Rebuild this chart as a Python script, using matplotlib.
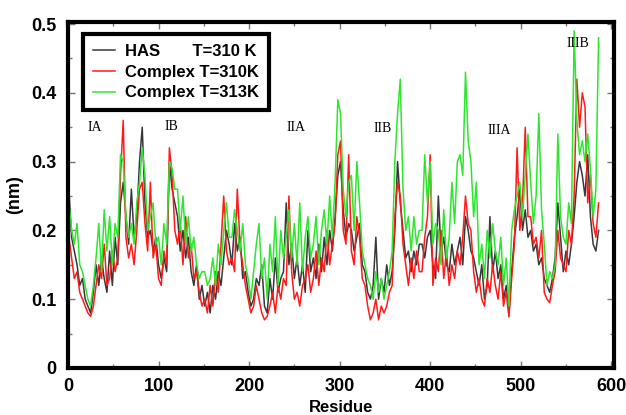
import numpy as np
import matplotlib.pyplot as plt
from matplotlib.ticker import MultipleLocator

# residue numbers, every 3rd residue
residue = np.arange(1, 587, 3)

# RMSF (nm)
has_310 = [
    0.26, 0.19, 0.17, 0.15, 0.12, 0.13, 0.10, 0.09, 0.08, 0.11,
    0.15, 0.12, 0.16, 0.13, 0.11, 0.17, 0.12, 0.19, 0.15, 0.24,
    0.27, 0.22, 0.18, 0.26, 0.19, 0.22, 0.30, 0.35, 0.24, 0.19,
    0.20, 0.17, 0.19, 0.15, 0.13, 0.16, 0.14, 0.30, 0.26, 0.24,
    0.22, 0.17, 0.20, 0.16, 0.19, 0.14, 0.12, 0.15, 0.10, 0.12,
    0.09, 0.11, 0.08, 0.12, 0.10, 0.14, 0.12, 0.16, 0.20, 0.18,
    0.15, 0.21, 0.17, 0.19, 0.13, 0.14, 0.11, 0.09, 0.10, 0.13,
    0.12, 0.15, 0.09, 0.08, 0.13, 0.10, 0.16, 0.11, 0.13, 0.14,
    0.24, 0.15, 0.18, 0.13, 0.16, 0.12, 0.15, 0.11, 0.20, 0.14,
    0.16, 0.13, 0.18, 0.14, 0.19, 0.15, 0.20, 0.17, 0.22, 0.28,
    0.30, 0.23, 0.19, 0.21, 0.20, 0.17, 0.19, 0.21, 0.15, 0.14,
    0.11, 0.10, 0.12, 0.19, 0.10, 0.13, 0.11, 0.15, 0.12, 0.14,
    0.20, 0.30, 0.24, 0.20, 0.16, 0.17, 0.14, 0.17, 0.15, 0.18,
    0.18, 0.16, 0.19, 0.20, 0.15, 0.13, 0.25, 0.17, 0.19, 0.15,
    0.14, 0.18, 0.15, 0.17, 0.19, 0.15, 0.22, 0.20, 0.17, 0.16,
    0.14, 0.12, 0.15, 0.10, 0.12, 0.22, 0.14, 0.17, 0.13, 0.15,
    0.10, 0.12, 0.08, 0.14, 0.19, 0.22, 0.26, 0.20, 0.23, 0.19,
    0.20, 0.17, 0.18, 0.15, 0.16, 0.13, 0.12, 0.11, 0.13, 0.16,
    0.24, 0.19, 0.14, 0.17, 0.15, 0.18, 0.22, 0.27, 0.30, 0.28,
    0.25, 0.31, 0.22, 0.18, 0.17, 0.20,
]
complex_310 = [
    0.19, 0.16, 0.13, 0.14, 0.11, 0.10, 0.09, 0.08, 0.075, 0.09,
    0.12, 0.15, 0.13, 0.18, 0.12, 0.13, 0.17, 0.14, 0.16, 0.28,
    0.36, 0.19, 0.16, 0.18, 0.15, 0.20, 0.26, 0.27, 0.21, 0.17,
    0.27, 0.16, 0.18, 0.13, 0.12, 0.17, 0.15, 0.32, 0.28, 0.20,
    0.18, 0.21, 0.15, 0.22, 0.16, 0.18, 0.13, 0.14, 0.11, 0.09,
    0.10, 0.08, 0.12, 0.09, 0.14, 0.11, 0.18, 0.25, 0.17, 0.15,
    0.16, 0.14, 0.26, 0.18, 0.15, 0.12, 0.10, 0.08, 0.09, 0.12,
    0.10, 0.08, 0.07, 0.075, 0.09, 0.11, 0.08, 0.12, 0.10, 0.13,
    0.12, 0.25, 0.14, 0.10, 0.11, 0.09, 0.12, 0.13, 0.15, 0.11,
    0.13, 0.17, 0.12, 0.16, 0.14, 0.20, 0.15, 0.18, 0.21, 0.31,
    0.33, 0.20, 0.18, 0.31, 0.17, 0.15, 0.22, 0.19, 0.13, 0.12,
    0.09, 0.07, 0.08, 0.10, 0.07, 0.09, 0.08, 0.09, 0.11, 0.12,
    0.22, 0.27, 0.25, 0.18, 0.15, 0.12, 0.16, 0.13, 0.17, 0.14,
    0.14, 0.19, 0.22, 0.31, 0.12, 0.16, 0.14, 0.20, 0.13, 0.17,
    0.12, 0.15, 0.13, 0.17, 0.15, 0.19, 0.25, 0.21, 0.20, 0.14,
    0.11, 0.13, 0.10, 0.09, 0.13, 0.11, 0.15, 0.12, 0.10, 0.14,
    0.09, 0.11, 0.074, 0.13, 0.18, 0.32, 0.20, 0.24, 0.35, 0.22,
    0.22, 0.18, 0.19, 0.16, 0.20, 0.11, 0.10, 0.095, 0.12, 0.14,
    0.20, 0.16, 0.15, 0.14, 0.20, 0.18, 0.25, 0.42, 0.35, 0.40,
    0.38, 0.24, 0.28, 0.21, 0.19, 0.24,
]
complex_313 = [
    0.24, 0.20, 0.18, 0.21, 0.15, 0.14, 0.12, 0.10, 0.09, 0.12,
    0.16, 0.21, 0.14, 0.23, 0.17, 0.22, 0.15, 0.21, 0.19, 0.31,
    0.30, 0.22, 0.19, 0.21, 0.18, 0.24, 0.27, 0.32, 0.28, 0.20,
    0.22, 0.24, 0.18, 0.19, 0.15, 0.21, 0.18, 0.30, 0.29, 0.26,
    0.26, 0.20, 0.25, 0.18, 0.22, 0.17, 0.19, 0.15, 0.13, 0.14,
    0.14, 0.12, 0.13, 0.16, 0.12, 0.18, 0.15, 0.20, 0.24, 0.19,
    0.19, 0.23, 0.20, 0.17, 0.21, 0.15, 0.13, 0.10, 0.14, 0.18,
    0.21, 0.13, 0.16, 0.10, 0.18, 0.14, 0.22, 0.12, 0.20, 0.16,
    0.19, 0.23, 0.16, 0.21, 0.15, 0.24, 0.14, 0.19, 0.22, 0.16,
    0.18, 0.22, 0.15, 0.20, 0.23, 0.18, 0.25, 0.19, 0.27, 0.39,
    0.37, 0.26, 0.22, 0.27, 0.28, 0.20, 0.30, 0.24, 0.17, 0.15,
    0.13, 0.12, 0.10, 0.14, 0.11, 0.13, 0.10, 0.12, 0.14, 0.17,
    0.30, 0.37, 0.42, 0.26, 0.20, 0.22, 0.17, 0.22, 0.18, 0.20,
    0.20, 0.31, 0.24, 0.30, 0.18, 0.21, 0.20, 0.15, 0.23, 0.16,
    0.19, 0.27, 0.21, 0.30, 0.31, 0.28, 0.43, 0.33, 0.30, 0.22,
    0.27, 0.15, 0.18, 0.13, 0.20, 0.16, 0.21, 0.17, 0.15, 0.19,
    0.12, 0.16, 0.09, 0.20, 0.23, 0.25, 0.27, 0.22, 0.28, 0.34,
    0.27, 0.21, 0.25, 0.37, 0.23, 0.18, 0.12, 0.14, 0.13, 0.15,
    0.34, 0.22, 0.19, 0.18, 0.24, 0.21, 0.49, 0.36, 0.31, 0.33,
    0.30, 0.34, 0.29, 0.22, 0.26, 0.48,
]

# domain labels and where they sit
domains = ["IA", "IB", "IIA", "IIB", "IIIA", "IIIB"]
domain_x = [30, 114, 252, 347, 476, 563]
domain_y = [0.349, 0.351, 0.349, 0.348, 0.345, 0.472]

plt.rcParams['font.family'] = ['Liberation Sans', 'DejaVu Sans']

fig = plt.figure(figsize=(6.26, 4.15), dpi=100)
ax = fig.add_axes([0.1086, 0.1133, 0.8722, 0.8337])

ax.plot(residue, has_310, color='#383838', lw=1.1, label='HAS       T=310 K')
ax.plot(residue, complex_310, color='#ff1a1a', lw=1.1, label='Complex T=310K')
ax.plot(residue, complex_313, color='#2ee62e', lw=1.1, label='Complex T=313K')

for name, x, y in zip(domains, domain_x, domain_y):
    ax.text(x, y, name, family='Liberation Serif', fontsize=10,
            ha='center', va='center')

ax.set_xlim(0, 603)
ax.set_ylim(0, 0.503)
ax.xaxis.set_major_locator(MultipleLocator(100))
ax.xaxis.set_minor_locator(MultipleLocator(50))
ax.yaxis.set_minor_locator(MultipleLocator(0.05))
ax.set_yticks([0, 0.1, 0.2, 0.3, 0.4, 0.5])
ax.set_yticklabels(['0', '0.1', '0.2', '0.3', '0.4', '0.5'])
ax.tick_params(which='both', direction='in', top=True, right=True,
               color='#777777', labelsize=13)
ax.tick_params(which='major', length=5, width=1)
ax.tick_params(which='minor', length=3, width=1)
ax.tick_params(axis='y', pad=8)
ax.tick_params(axis='x', pad=7)
for lab in ax.get_xticklabels() + ax.get_yticklabels():
    lab.set_fontweight('bold')
for sp in ax.spines.values():
    sp.set_linewidth(3)

ax.set_xlabel('Residue', fontsize=12, fontweight='bold', labelpad=4)
ax.set_ylabel('(nm)', fontsize=13, fontweight='bold', labelpad=6)

leg = ax.legend(loc='upper left', bbox_to_anchor=(0.013, 0.99),
                prop={'weight': 'bold', 'size': 12},
                fancybox=False, framealpha=1, edgecolor='black',
                handlelength=1.3, handletextpad=0.6, labelspacing=0.35,
                borderpad=0.6)
leg.get_frame().set_linewidth(3)

fig.savefig('out.png', dpi=100)
